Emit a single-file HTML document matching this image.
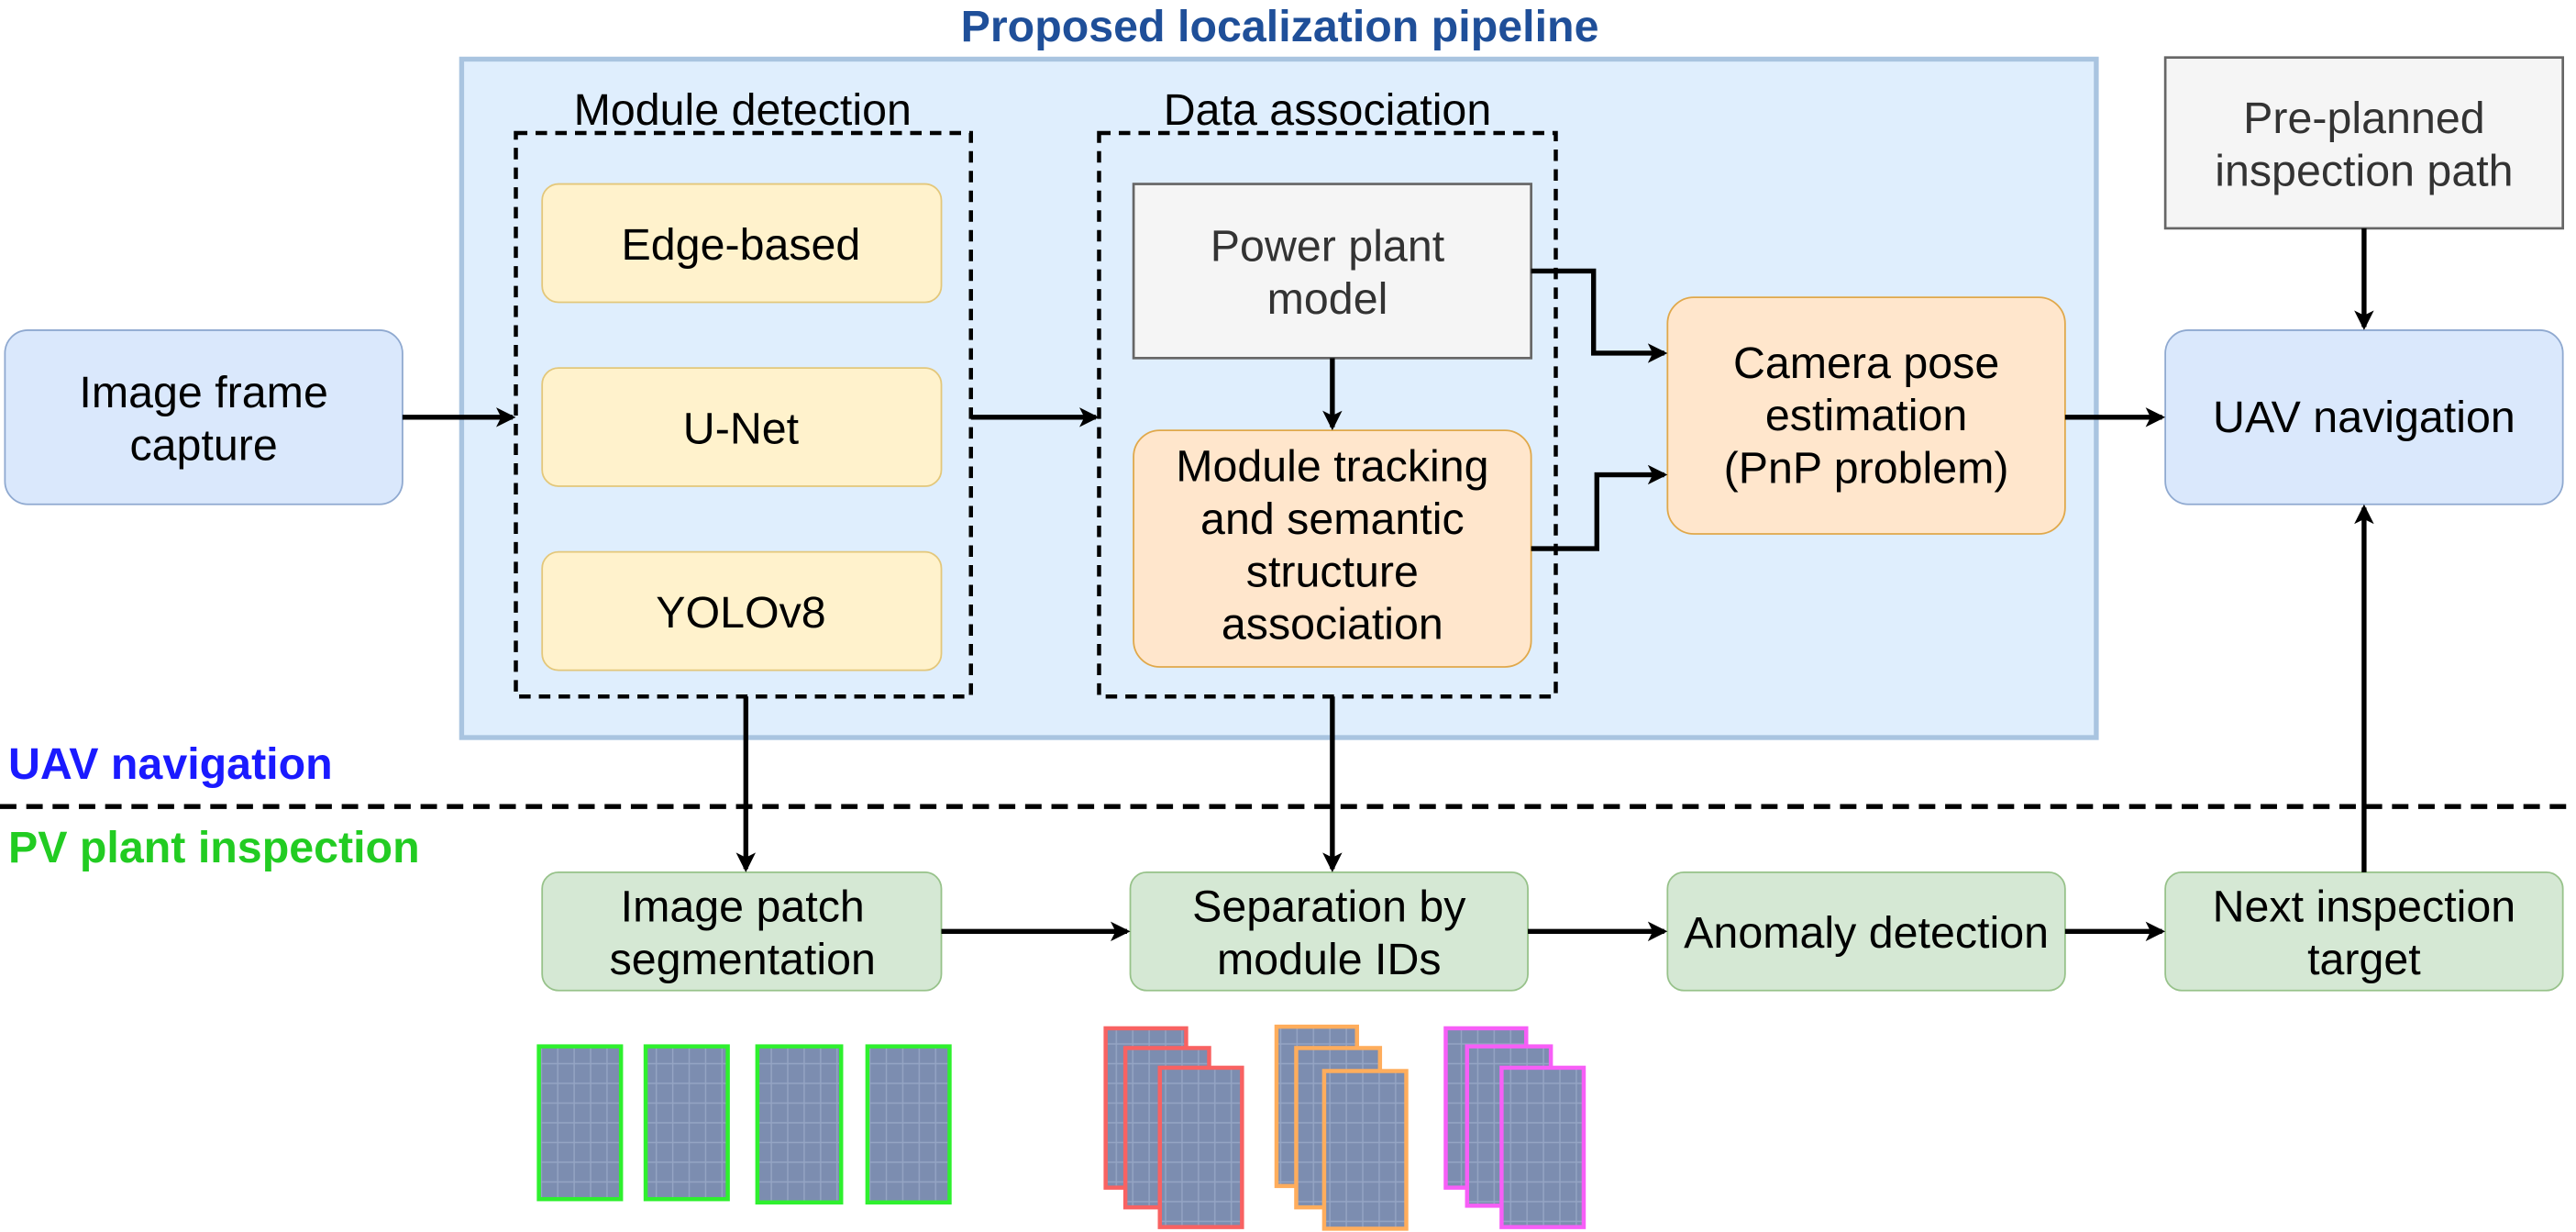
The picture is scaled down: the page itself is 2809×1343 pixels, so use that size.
<!DOCTYPE html>
<html><head><meta charset="utf-8"><style>
html,body{margin:0;padding:0;background:#fff;}
svg{display:block;}
text{font-family:"Liberation Sans",sans-serif;}
</style></head><body>
<svg width="2809" height="1343" viewBox="0 0 1568 750" preserveAspectRatio="none" xmlns="http://www.w3.org/2000/svg">
<defs>
<marker id="ah" markerWidth="12" markerHeight="12" refX="10" refY="6" orient="auto" markerUnits="userSpaceOnUse">
<path d="M0,0 L12,6 L0,12 L3,6 z" fill="#000"/></marker>
<pattern id="pv" width="10" height="12" patternUnits="userSpaceOnUse">
<rect width="10" height="12" fill="#7c8db0"/>
<path d="M0,11.5 H10 M9.5,0 V12" stroke="#95a5c4" stroke-width="0.8"/>
</pattern>
</defs>
<text x="779" y="25" font-size="27" font-weight="bold" fill="#1f4f99" text-anchor="middle">Proposed localization pipeline</text>
<rect x="281" y="36" width="995" height="413" fill="#dfeefd" stroke="#a9c4e0" stroke-width="3"/>
<text x="452" y="76" font-size="27" text-anchor="middle">Module detection</text>
<rect x="314" y="81" width="277" height="343" fill="none" stroke="#000" stroke-width="2.5" stroke-dasharray="7,5"/>
<text x="808" y="76" font-size="27" text-anchor="middle">Data association</text>
<rect x="669" y="81" width="278" height="343" fill="none" stroke="#000" stroke-width="2.5" stroke-dasharray="7,5"/>
<g fill="#fff2cc" stroke="#e3c77a">
<rect x="330" y="112" width="243" height="72" rx="10"/>
<rect x="330" y="224" width="243" height="72" rx="10"/>
<rect x="330" y="336" width="243" height="72" rx="10"/>
</g>
<g font-size="27" text-anchor="middle">
<text x="451" y="158">Edge-based</text>
<text x="451" y="270">U-Net</text>
<text x="451" y="382">YOLOv8</text>
</g>
<rect x="690" y="112" width="242" height="106" fill="#f5f5f5" stroke="#666" stroke-width="1.5"/>
<text x="808" y="159" font-size="27" fill="#333" text-anchor="middle">Power plant</text>
<text x="808" y="191" font-size="27" fill="#333" text-anchor="middle">model</text>
<rect x="690" y="262" width="242" height="144" rx="16" fill="#ffe6cc" stroke="#e0a84a"/>
<g font-size="27" text-anchor="middle">
<text x="811" y="293">Module tracking</text>
<text x="811" y="325">and semantic</text>
<text x="811" y="357">structure</text>
<text x="811" y="389">association</text>
</g>
<rect x="1015" y="181" width="242" height="144" rx="16" fill="#ffe6cc" stroke="#e0a84a"/>
<g font-size="27" text-anchor="middle">
<text x="1136" y="230">Camera pose</text>
<text x="1136" y="262">estimation</text>
<text x="1136" y="294">(PnP problem)</text>
</g>
<rect x="3" y="201" width="242" height="106" rx="14" fill="#dae8fc" stroke="#8fa9d0"/>
<text x="124" y="248" font-size="27" text-anchor="middle">Image frame</text>
<text x="124" y="280" font-size="27" text-anchor="middle">capture</text>
<rect x="1318" y="201" width="242" height="106" rx="14" fill="#dae8fc" stroke="#8fa9d0"/>
<text x="1439" y="263" font-size="27" text-anchor="middle">UAV navigation</text>
<rect x="1318" y="35" width="242" height="104" fill="#f5f5f5" stroke="#666" stroke-width="1.5"/>
<text x="1439" y="81" font-size="27" fill="#333" text-anchor="middle">Pre-planned</text>
<text x="1439" y="113" font-size="27" fill="#333" text-anchor="middle">inspection path</text>
<line x1="0" y1="491" x2="1568" y2="491" stroke="#000" stroke-width="3" stroke-dasharray="10,6"/>
<text x="5" y="474" font-size="27" font-weight="bold" fill="#1a1aff">UAV navigation</text>
<text x="5" y="525" font-size="27" font-weight="bold" fill="#22cc22">PV plant inspection</text>
<g fill="#d5e8d4" stroke="#97c28a">
<rect x="330" y="531" width="243" height="72" rx="10"/>
<rect x="688" y="531" width="242" height="72" rx="10"/>
<rect x="1015" y="531" width="242" height="72" rx="10"/>
<rect x="1318" y="531" width="242" height="72" rx="10"/>
</g>
<g font-size="27" text-anchor="middle">
<text x="452" y="561">Image patch</text>
<text x="452" y="593">segmentation</text>
<text x="809" y="561">Separation by</text>
<text x="809" y="593">module IDs</text>
<text x="1136" y="577">Anomaly detection</text>
<text x="1439" y="561">Next inspection</text>
<text x="1439" y="593">target</text>
</g>
<g stroke="#000" stroke-width="3" fill="none" marker-end="url(#ah)">
<path d="M245,254 H312"/>
<path d="M591,254 H667"/>
<path d="M811,218 V260"/>
<path d="M932,165 H970 V215 H1013"/>
<path d="M932,334 H972 V289 H1013"/>
<path d="M1257,254 H1316"/>
<path d="M1439,139 V199"/>
<path d="M1439,531 V309"/>
<path d="M454,424 V529"/>
<path d="M811,424 V529"/>
<path d="M573,567 H686"/>
<path d="M930,567 H1013"/>
<path d="M1257,567 H1316"/>
</g>
<g fill="url(#pv)" stroke-width="2.5">
<rect x="328" y="637" width="50" height="93" stroke="#2ef02e"/>
<rect x="393" y="637" width="50" height="93" stroke="#2ef02e"/>
<rect x="461" y="637" width="51" height="95" stroke="#2ef02e"/>
<rect x="528" y="637" width="50" height="95" stroke="#2ef02e"/>
<rect x="673" y="626" width="49" height="97" stroke="#f86262"/>
<rect x="685" y="638" width="51" height="97" stroke="#f86262"/>
<rect x="706" y="650" width="50" height="97" stroke="#f86262"/>
<rect x="777" y="625" width="49" height="97" stroke="#ffad5c"/>
<rect x="789" y="638" width="51" height="97" stroke="#ffad5c"/>
<rect x="806" y="652" width="50" height="96" stroke="#ffad5c"/>
<rect x="880" y="626" width="49" height="97" stroke="#f75ef7"/>
<rect x="893" y="637" width="51" height="97" stroke="#f75ef7"/>
<rect x="914" y="650" width="50" height="97" stroke="#f75ef7"/>
</g>
</svg>
</body></html>
